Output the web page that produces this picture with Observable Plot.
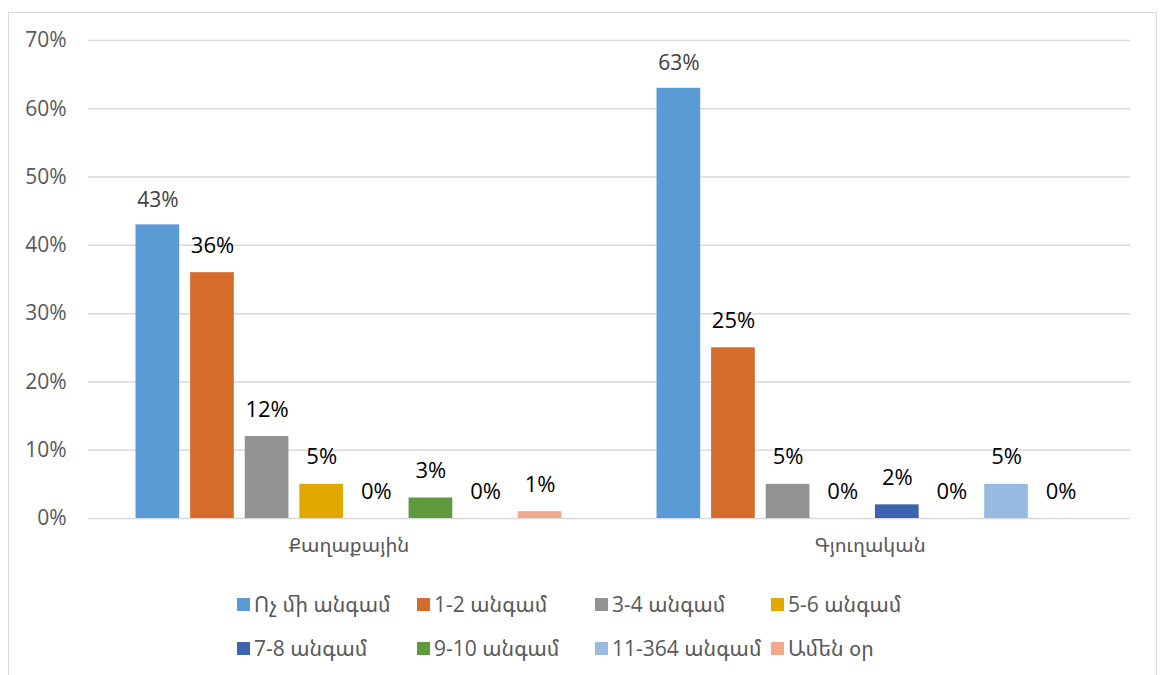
<!DOCTYPE html>
<html>
<head>
<meta charset="utf-8">
<script src="https://cdn.jsdelivr.net/npm/d3@7"></script>
<script src="https://cdn.jsdelivr.net/npm/@observablehq/plot@0.6"></script>
<style>
  html, body { margin: 0; padding: 0; background: #fff; }
  body { width: 1164px; height: 675px; position: relative; overflow: hidden;
         font-family: "Open Sans", "Noto Sans Armenian", "DejaVu Sans", sans-serif; }
  #frame { position: absolute; left: 8px; top: 12px; width: 1149px; height: 700px;
           border: 1.5px solid #d9d9d9; box-sizing: border-box; }
  #chart { position: absolute; left: 0; top: 0; }
  #legend { position: absolute; left: 237px; top: 582px; display: grid;
            grid-template-columns: 180px 178px 176px 180px; grid-auto-rows: 44px; }
  .item { display: flex; align-items: center; font-size: 21px; color: #595959; white-space: nowrap; }
  .sw { width: 13px; height: 13px; margin-right: 4px; flex: none; }
</style>
</head>
<body>
<div id="frame"></div>
<div id="chart"></div>
<div id="legend"></div>
<script>
const groups = ["Քաղաքային", "Գյուղական"];
const series = ["Ոչ մի անգամ", "1-2 անգամ", "3-4 անգամ", "5-6 անգամ", "7-8 անգամ", "9-10 անգամ", "11-364 անգամ", "Ամեն օր"];
const urbanValues = [0.43, 0.36, 0.12, 0.05, 0.00, 0.03, 0.00, 0.01];
const ruralValues = [0.63, 0.25, 0.05, 0.00, 0.02, 0.00, 0.05, 0.00];
const colors = ["#5B9BD5", "#D46C2B", "#929292", "#E1A900", "#3C63AD", "#5F993D", "#99BAE0", "#F0A98A"];
const yTicks = [0, 0.1, 0.2, 0.3, 0.4, 0.5, 0.6, 0.7];

const data = [];
groups.forEach((g, gi) => {
  const vals = gi === 0 ? urbanValues : ruralValues;
  series.forEach((s, si) => data.push({group: g, series: s, value: vals[si]}));
});
const pct = d3.format(".0%");
const first = data.filter(d => d.series === series[0]);
const rest = data.filter(d => d.series !== series[0]);

const chart = Plot.plot({
  width: 1164,
  height: 600,
  marginTop: 40,
  marginBottom: 82,
  marginLeft: 88,
  marginRight: 34,
  style: {fontFamily: '"Open Sans", "Noto Sans Armenian", "DejaVu Sans", sans-serif', background: "transparent"},
  fx: {domain: groups, padding: 0, label: null, round: false},
  x: {domain: series, paddingInner: 0.2, paddingOuter: 0.87, round: false, axis: null},
  y: {domain: [0, 0.7], label: null},
  color: {domain: series, range: colors},
  marks: [
    Plot.ruleY(yTicks, {stroke: "#d9d9d9", strokeWidth: 1.5}),
    Plot.barY(data, {fx: "group", x: "series", y: "value", fill: "series"}),
    Plot.text(first, {fx: "group", x: "series", y: "value", text: d => pct(d.value), dy: -25, fill: "#404040", fontSize: 21}),
    Plot.text(rest, {fx: "group", x: "series", y: "value", text: d => pct(d.value), dy: -27, fill: "#000", fontSize: 22}),
    Plot.axisY({ticks: yTicks, tickFormat: pct, tickSize: 0, tickPadding: 22, fontSize: 21, color: "#595959", label: null}),
    Plot.axisFx({anchor: "bottom", tickSize: 0, tickPadding: 19, fontSize: 20, color: "#595959", label: null})
  ]
});
document.getElementById("chart").appendChild(chart);

const legend = document.getElementById("legend");
series.forEach((s, i) => {
  const item = document.createElement("div");
  item.className = "item";
  const sw = document.createElement("span");
  sw.className = "sw";
  sw.style.background = colors[i];
  item.appendChild(sw);
  item.appendChild(document.createTextNode(s));
  legend.appendChild(item);
});
</script>
</body>
</html>
